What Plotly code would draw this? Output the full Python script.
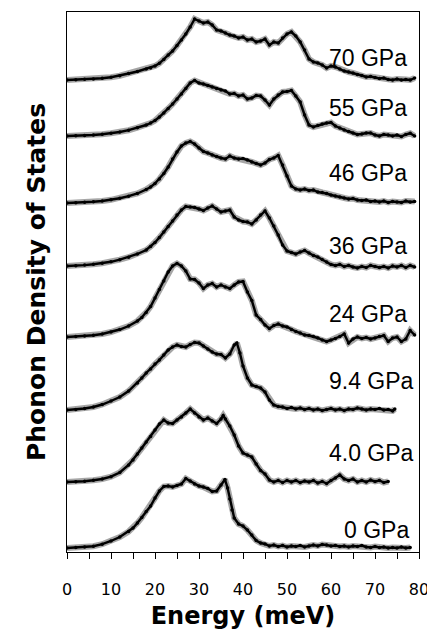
import plotly.graph_objects as go

# Energy grids (meV) and phonon DOS (arbitrary units)
pressures = ["0 GPa", "4.0 GPa", "9.4 GPa", "24 GPa", "36 GPa", "46 GPa", "55 GPa", "70 GPa"]
offsets = [4, 70, 142, 215, 286, 349, 416, 472]

E_0 = [0,2,4,6,8,10,12,14,15,16,17,18,19,20,21,22,23,24,25,26,27,28,29,30,31,32,33,34,35,35.9,36.5,37,37.5,38,39,40,41,42,43,44,45,46,47,48,49,50,51,52,53,54,55,56,57,58,59,60,61,62,63,64,65,66,67,68,69,70,71,72,73,74,75,76,77,78]
D_0 = [0,0.4,1,1.8,3.8,7,11,16.5,20,25,30.5,36.5,42,50,57,61.5,62,61,62.5,64,69.5,67,64,62,61,59.5,56.5,57,63,68.5,60,49,38,30,24,22,18,13,7.5,5,4,2,3,1.5,2.5,1,2,1.5,2.5,1,2,3,2,3.5,3,2,2.5,1.5,2,1,2,1.5,2.5,1,0.5,1.5,0.5,1,0,0.5,0,1,0,0.5]

E_4 = [0,2,4,6,8,10,12,14,15,16,17,18,19,20,21,22,23,24,25,26,27,28,29,30,31,32,33,34,35,35.5,36,37,38,39,40,41,42,43,44,45,46,47,48,49,50,51,52,53,54,55,56,57,58,59,60,61,62,63,64,65,66,67,68,69,70,71,72,73]
D_4 = [0,0.3,0.8,1.7,3,5.3,9.5,17,22,28,34,40,45.5,52,58,62,59,58.5,62,65,69,73,69,65,62,64,61,58.5,63,66.5,63,56,47,36,29,27,25,18,11.5,8,2,0,1.5,-0.5,1.5,0,1.5,-0.5,1,0,1.5,-1,0.5,-1.5,1.5,4,7,3,1.5,3,0,1.5,0,2,0.5,1.5,-0.5,0.5]

E_9 = [0,2,4,6,8,10,12,14,16,17,18,19,20,21,22,23,24,25,26,27,28,29,30,31,32,33,34,35,36,37,38,38.6,39.3,40,41,42,43,44,45,46,47,48,49,50,51,52,53,54,55,56,57,58,59,60,61,62,63,64,65,66,67,68,69,70,71,72,73,74,74.5]
D_9 = [0,0.5,1.5,3,5.5,9,13,19,27,32,37,41,46,50,55,60,63,65,63.5,63,65.5,67.5,67,64,61,58,56,55.5,52,56,65,67,57,44,32,25,23.5,22,18,10,5,3.5,3,1.5,2.5,1,2,0.5,1.5,0,1,-0.5,0.5,1.5,0,1,-0.5,1,0.5,2,1,0,1,0.5,1.5,0,0.5,-1,1]

E_24 = [0,2,4,6,8,10,12,14,16,17,18,19,20,21,22,23,24,25,26,27,28,29,30,31,32,33,34,35,36,37,38,39,40,41,42,43,44,45,46,47,48,49,50,51,52,53,54,55,56,57,58,59,60,61,62,63,64,65,66,67,68,69,70,71,72,73,74,75,76,77,78,79]
D_24 = [0,0.5,1,1.7,3,5,7.5,11,16,19.5,24.5,30.5,39,47.5,56,65,71,73.5,71,66,58,57.5,54,48.5,52,53.5,50,52,50,48.5,52,55,55.5,45,36.5,22,17.5,12,8.5,11.5,13,11,10,7.5,5.5,4,2,1.5,0.5,-1,-3,-4.5,-3,-1.5,0.5,3,-6,-2,0,-1.5,-0.5,-2,-1,0.5,1.5,-4.5,-1,0,-4.5,-2,6.5,2]

E_36 = [0,2,4,6,8,10,12,14,16,18,19,20,21,22,23,24,25,26,27,28,29,30,31,32,33,34,35,36,37,38,39,40,41,42,43,44,45,46,47,48,49,50,51,52,53,54,55,56,57,58,59,60,61,62,63,64,65,66,67,68,69,70,71,72,73,74,75,76,77,78,79]
D_36 = [0,0.3,0.9,1.7,2.8,4.2,6.3,8.8,12,16,19.5,23.5,28.5,34,39.5,45,51,56,59.5,59,58.5,57,55.5,58,60,57,54,55,56,49,46,44.5,44,42,46,51,55,48,40,31,21,15,13.5,12,14,15.5,13,10.5,9,6.5,4,1.5,0.5,1.5,-0.5,0.5,-1,-2,-0.5,-1.5,0.5,-0.5,-1.5,-0.5,-2,0,-1,0.5,-1.5,0.5,-1]

E_46 = [0,2,4,6,8,10,12,14,16,18,19,20,21,22,23,24,25,26,27,28,29,30,31,32,33,34,35,36,37,38,39,40,41,42,43,44,45,46,47,48,49,50,51,52,53,54,55,56,57,58,59,60,61,62,63,64,65,66,67,68,69,70,71,72,73,74,75,76,77,78,79]
D_46 = [0,0.3,0.7,1.2,2,3.2,4.8,6.8,9.5,13.5,16,19.5,24,29.5,36,44,51,57,60,61.5,59,55,51.5,50,48,46.5,45,44,47,45,44,44.5,43,41,39.5,38,40,43.5,45,47.5,38,27,17,14,13,14,12.5,13,11,10.5,9.5,8,7,6,5,4,4.5,3,2.5,3,1.5,2,1,2,0.5,1.5,1,0.5,2,1,1.5]

E_55 = [0,2,4,6,8,10,12,14,16,18,19,20,21,22,23,24,25,26,27,28,29,30,31,32,33,34,35,36,37,38,39,40,41,42,43,44,45,46,47,48,49,50,51,52,53,54,55,56,57,58,59,60,61,62,63,64,65,66,67,68,69,70,71,72,73,74,75,76,77,78,79]
D_55 = [0,0.2,0.5,1,1.8,2.8,4,5.8,8.3,11,13,15.5,19,23,27.5,32,37,42,47.5,53,55.5,53,52,50.5,49,47.5,46,45,42,42.5,40,41,37,38,40.5,40,36,31,37,41,44,44.5,45.5,40,34,21,11,9,10.5,12,13,13.5,10,8,6,4.5,3,1.5,2,3,3,1,0,1.5,1,0,1,-0.5,1.5,2.7,0]

E_70 = [0,2,4,6,8,10,12,14,16,18,19,20,21,22,23,24,25,26,27,28,29,30,31,32,33,34,35,36,37,38,39,40,41,42,43,44,45,46,47,48,49,50,51,52,53,54,55,56,57,58,59,60,61,62,63,64,65,66,67,68,69,70,71,72,73,74,75,76,77,78,79]
D_70 = [0,0.3,0.7,1,1.8,2.8,4.3,6.5,8.5,11,12,14,16.7,20.5,25,29,34.5,40,46,53,61,59,57,58,55,50,49,47,45,44,42,43,40,41,38,39,41,35,38,37,42,46,48,44,38,30,21,18,17,15,12,14,13,11,9,8,7,5.5,4.5,3,3.5,2.5,1.5,2,0.5,0,1,0,0.5,0,2]

energies = [E_0, E_4, E_9, E_24, E_36, E_46, E_55, E_70]
dos = [D_0, D_4, D_9, D_24, D_36, D_46, D_55, D_70]

label_x = [62.5, 59.1, 59.1, 59.1, 59.1, 59.1, 59.1, 59.1]
label_y = [22, 99, 171, 238, 306, 379, 444, 494]

x_ticks = [0, 10, 20, 30, 40, 50, 60, 70, 80]

fig = go.Figure()
for E, D, off in zip(energies, dos, offsets):
    y = [d + off for d in D]
    fig.add_trace(go.Scatter(x=E, y=y, mode="lines",
                             line=dict(color="rgba(150,150,150,0.85)", width=6),
                             hoverinfo="skip", showlegend=False))
    fig.add_trace(go.Scatter(x=E, y=y, mode="lines+markers",
                             line=dict(color="black", width=2.4),
                             marker=dict(color="black", size=3.5),
                             showlegend=False))

for name, lx, ly in zip(pressures, label_x, label_y):
    fig.add_annotation(x=lx, y=ly, xref="x", yref="y", text=name,
                       showarrow=False, xanchor="left", yanchor="middle",
                       font=dict(family="Liberation Sans, Arial", size=23, color="black"))

# the page body adds an 8px margin, so the figure is sized to fit the window
fig.update_layout(
    width=427, height=622,
    margin=dict(l=59, r=16, t=4, b=78, autoexpand=False),
    paper_bgcolor="white", plot_bgcolor="white",
    showlegend=False,
)
fig.update_xaxes(
    range=[0, 80], showgrid=False, zeroline=False, automargin=False,
    showline=True, linecolor="black", linewidth=1, mirror=True,
    tickvals=x_ticks, ticktext=[str(v) for v in x_ticks],
    ticks="outside", ticklen=6, tickcolor="black", tickwidth=1,
    minor=dict(dtick=5, ticks="outside", ticklen=6, tickcolor="black", tickwidth=1),
    tickfont=dict(family="DejaVu Sans", size=16, color="black"),
    ticklabelstandoff=17,
    title=dict(text="Energy (meV)", standoff=10,
               font=dict(family="DejaVu Sans", size=24, color="black", weight="bold")),
)
fig.update_yaxes(
    range=[0, 540], showgrid=False, zeroline=False, automargin=False,
    showline=True, linecolor="black", linewidth=1, mirror=True,
    showticklabels=False, ticks="",
    title=dict(text="Phonon Density of States", standoff=13,
               font=dict(family="DejaVu Sans", size=25, color="black", weight="bold")),
)

fig.write_html("out.html")
